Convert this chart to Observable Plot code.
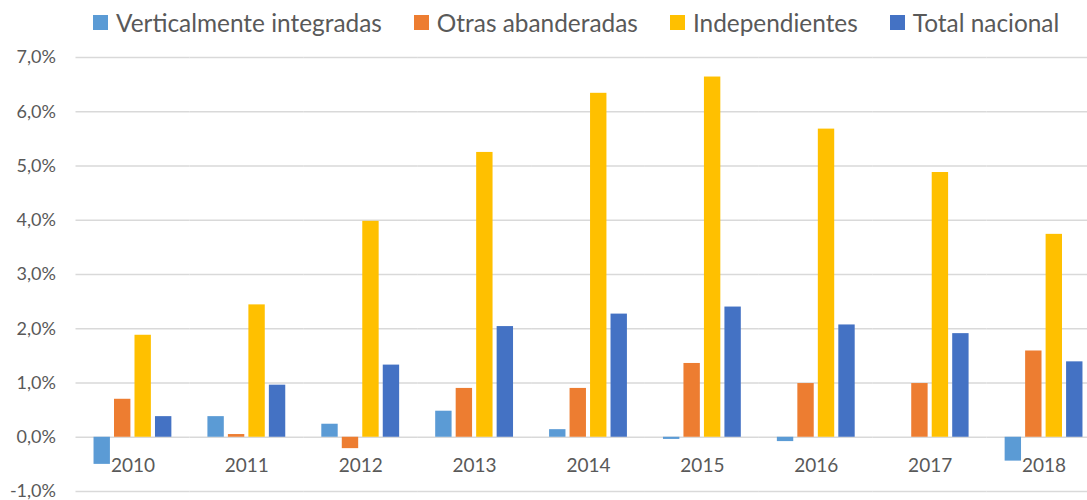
<!DOCTYPE html>
<html>
<head>
<meta charset="utf-8">
<script src="https://cdn.jsdelivr.net/npm/d3@7"></script>
<script src="https://cdn.jsdelivr.net/npm/@observablehq/plot@0.6"></script>
<style>
  html, body { margin: 0; padding: 0; background: #fff; overflow: hidden; }
  #legend { height: 45px; display: flex; align-items: center; padding-left: 93px; box-sizing: border-box;
            font-family: Lato, sans-serif; font-size: 24.4px; color: #595959; white-space: nowrap; }
  .item { display: flex; align-items: center; margin-right: 32px; }
  .sw { width: 15px; height: 15px; margin-right: 8px; display: inline-block; }
</style>
</head>
<body>
<div id="legend"></div>
<div id="chart"></div>
<script>
const years = ["2010","2011","2012","2013","2014","2015","2016","2017","2018"];
const seriesNames = ["Verticalmente integradas","Otras abanderadas","Independientes","Total nacional"];
const seriesColors = ["#5B9BD5","#ED7D31","#FFC000","#4472C4"];
const verticalmente = [-0.50, 0.38, 0.24, 0.48, 0.14, -0.04, -0.08, 0.00, -0.44];
const otras = [0.70, 0.05, -0.21, 0.90, 0.90, 1.36, 0.99, 0.99, 1.59];
const independientes = [1.88, 2.44, 3.98, 5.25, 6.34, 6.64, 5.68, 4.88, 3.74];
const totalNacional = [0.38, 0.96, 1.33, 2.04, 2.27, 2.40, 2.07, 1.91, 1.39];
const yTicks = [-1, 0, 1, 2, 3, 4, 5, 6, 7];

const seriesValues = [verticalmente, otras, independientes, totalNacional];
const data = [];
years.forEach((yr, i) => {
  seriesNames.forEach((s, j) => data.push({year: yr, series: s, value: seriesValues[j][i]}));
});

// legend
const legend = document.getElementById("legend");
seriesNames.forEach((s, j) => {
  const it = document.createElement("div");
  it.className = "item";
  const sw = document.createElement("span");
  sw.className = "sw";
  sw.style.background = seriesColors[j];
  const tx = document.createElement("span");
  tx.textContent = s;
  it.appendChild(sw); it.appendChild(tx);
  legend.appendChild(it);
});

const fmt = d => d.toFixed(1).replace(".", ",") + "%";

const chart = Plot.plot({
  width: 1087,
  height: 455,
  marginLeft: 75.5,
  marginRight: -13.5,
  marginTop: 12,
  marginBottom: 9,
  style: {fontFamily: "Lato, sans-serif", fontSize: "18px", color: "#595959", background: "#fff"},
  fx: {domain: years, padding: 0, round: false, axis: null},
  x: {domain: seriesNames, paddingInner: 0.2, paddingOuter: 0.88, round: false, axis: null},
  y: {domain: [-1, 7], axis: null},
  color: {domain: seriesNames, range: seriesColors},
  marks: [
    Plot.gridY(yTicks, {stroke: "#D9D9D9", strokeOpacity: 1, strokeWidth: 1.3}),
    Plot.axisY(yTicks, {tickSize: 0, tickPadding: 20, tickFormat: fmt, fill: "#595959", fontSize: 18, label: null}),
    Plot.barY(data, {fx: "year", x: "series", y: "value", fill: "series"}),
    Plot.text(years, {fx: d => d, y: d => 0, text: d => d, dy: 29, fill: "#595959", fontSize: 19})
  ]
});
document.getElementById("chart").appendChild(chart);
</script>
</body>
</html>
